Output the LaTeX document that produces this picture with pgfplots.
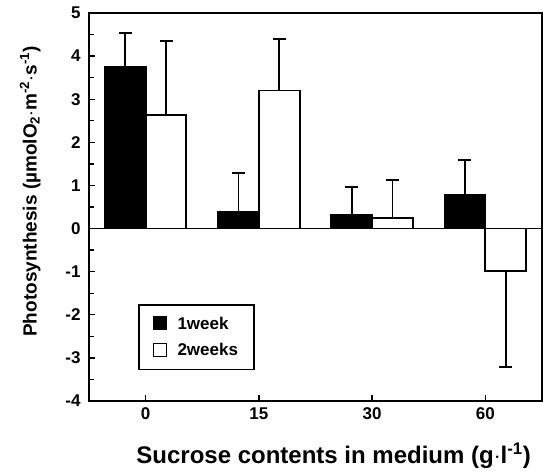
\documentclass[border=0pt]{standalone}
\usepackage{fontspec}
\setmainfont{Liberation Sans}
\usepackage{pgfplots}
\pgfplotsset{compat=1.18}
\begin{document}
\begin{tikzpicture}
\useasboundingbox (-89bp,-71bp) rectangle (454bp,401bp);
\begin{axis}[
  scale only axis,
  width=453bp, height=388bp,
  at={(0,0)}, anchor=south west,
  xmin=-0.5, xmax=3.5, ymin=-4, ymax=5,
  ybar=0pt, bar width=0.36,
  axis line style={line width=1.8pt},
  xtick={0,1,2,3}, xticklabels={0,15,30,60},
  ytick={-4,-3,...,5},
  minor y tick num=1,
  tick align=inside,
  xtick pos=bottom, ytick pos=left,
  major tick length=6bp, minor tick length=5bp,
  tick style={line width=1.3pt, black},
  /pgf/number format/assume math mode=true,
  tick label style={font=\fontsize{17bp}{19bp}\selectfont\bfseries},
  xticklabel style={yshift=-3bp},
  yticklabel style={xshift=-5bp},
  xlabel={\textbf{Sucrose contents in medium (g$\cdot$l\textsuperscript{-1})}},
  ylabel={\textbf{Photosynthesis (\char"00B5 molO\textsubscript{2}$\cdot$m\textsuperscript{-2}$\cdot$s\textsuperscript{-1})}},
  xlabel style={font=\fontsize{24bp}{26bp}\selectfont, at={(axis description cs:0.54,0)}, yshift=-38bp},
  ylabel style={font=\fontsize{19bp}{22bp}\selectfont, at={(axis description cs:0,0.54)}, yshift=45bp},
  legend style={at={(axis description cs:0.108,0.25)}, anchor=north west,
    draw=black, line width=1.6pt, font=\fontsize{17bp}{19bp}\selectfont\bfseries,
    inner xsep=14bp, inner ysep=10bp, row sep=9bp,
    cells={anchor=west}},
  legend image code/.code={\draw[#1, line width=1.6pt] (0bp,-6bp) rectangle (13bp,7bp); \path[draw=none,fill=none] (13bp,0) -- (22bp,0);},
  error bars/y dir=both, error bars/y explicit,
  error bars/error bar style={line width=1.8pt, black},
  error bars/error mark options={rotate=90, mark size=6.5bp, line width=1.8pt, black},
]
\addplot[draw=black, fill=black, line width=1.8pt] coordinates {
  (0,3.75) += (0,0.78) -= (0,0)
  (1,0.39) += (0,0.90) -= (0,0)
  (2,0.31) += (0,0.66) -= (0,0)
  (3,0.78) += (0,0.81) -= (0,0)
};
\addplot[draw=black, fill=white, line width=1.8pt] coordinates {
  (0,2.63) += (0,1.72) -= (0,0)
  (1,3.20) += (0,1.20) -= (0,0)
  (2,0.24) += (0,0.88) -= (0,0)
  (3,-0.99) += (0,0) -= (0,2.23)
};
\draw[line width=1.8pt] (axis cs:-0.5,0) -- (axis cs:3.5,0);
\legend{1week,2weeks}
\end{axis}
\end{tikzpicture}
\end{document}
